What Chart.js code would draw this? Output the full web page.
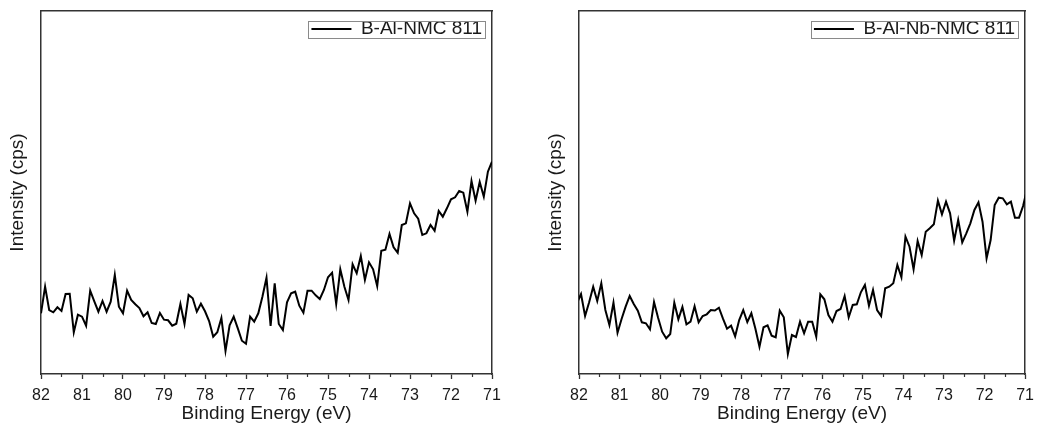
<!DOCTYPE html>
<html lang="en">
<head>
    <meta charset="UTF-8">
    <title>XPS Nb 3d region</title>
    <script src="https://cdn.jsdelivr.net/npm/chart.js@4.4.1/dist/chart.umd.min.js"></script>
    <style>
        body { margin: 0; background: #fff; }
        .panel { position: absolute; top: 0; }
    </style>
</head>
<body>
    <canvas id="chartAl" class="panel" width="520" height="434" style="left:0px"></canvas>
    <canvas id="chartNb" class="panel" width="503" height="434" style="left:538px"></canvas>
<script>
    // binding energy grid (eV), 0.1 eV step, high to low
    const alStart = 82.0
    const nbStart = 82.05
    const eStep = 0.1
    const xTickMin = 71
    const xTickMax = 82

    // intensities (arbitrary cps units)
    const alNmc = [
        607, 873, 640, 617, 667, 630, 800, 803, 417, 593,
        573, 483, 833, 727, 623, 730, 623, 723, 990, 673,
        607, 833, 740, 697, 660, 577, 617, 510, 500, 610,
        543, 537, 483, 503, 700, 500, 790, 757, 623, 703,
        627, 530, 373, 417, 560, 230, 487, 573, 457, 333,
        303, 573, 523, 607, 773, 963, 480, 907, 500, 440,
        717, 807, 823, 683, 613, 833, 833, 787, 750, 840,
        967, 1013, 700, 1047, 873, 740, 1097, 1007, 1180, 940,
        1117, 1047, 880, 1233, 1243, 1400, 1267, 1213, 1490, 1507,
        1707, 1607, 1553, 1390, 1407, 1490, 1433, 1630, 1573, 1657,
        1747, 1767, 1830, 1813, 1623, 1930, 1733, 1920, 1773, 2023,
        2123
    ]
    const alNbNmc = [
        710, 800, 580, 717, 873, 730, 907, 640, 490, 713,
        413, 550, 673, 780, 700, 633, 517, 507, 447, 720,
        563, 423, 357, 400, 713, 547, 670, 497, 523, 677,
        517, 580, 597, 640, 635, 663, 553, 453, 483, 377,
        540, 640, 520, 607, 453, 273, 467, 487, 383, 367,
        633, 567, 200, 390, 370, 523, 407, 523, 523, 373,
        797, 747, 590, 523, 630, 650, 780, 567, 690, 697,
        817, 890, 683, 840, 640, 580, 857, 873, 907, 1090,
        967, 1373, 1273, 1047, 1330, 1190, 1423, 1457, 1497, 1733,
        1597, 1723, 1607, 1333, 1540, 1317, 1407, 1507, 1640, 1717,
        1523, 1157, 1340, 1690, 1763, 1757, 1697, 1723, 1563, 1563,
        1680, 1850
    ]
    const yMax = 3630

    const FONT = "'Liberation Sans', Arial, sans-serif"
    const ink = '#1a1a1a'
    const axisColor = '#333333'

    function toPoints(start, vals) {
        return vals.map((v, i) => ({ x: +(start - i * eStep).toFixed(2), y: v }))
    }

    // half-step ticks between the labelled ones
    const minorTicks = {
        id: 'minorTicks',
        afterDraw(chart) {
            const sx = chart.scales.x, ctx = chart.ctx
            const t = sx.ticks.map(k => k.value)
            ctx.save()
            ctx.strokeStyle = axisColor
            ctx.lineWidth = 1.2
            for (let i = 0; i < t.length - 1; i++) {
                const px = Math.round(sx.getPixelForValue((t[i] + t[i + 1]) / 2)) + 0.5
                ctx.beginPath()
                ctx.moveTo(px, sx.top)
                ctx.lineTo(px, sx.top + 3)
                ctx.stroke()
            }
            ctx.restore()
        }
    }

    // move the legend into the top right corner of the plot, with a frame
    const legendInside = {
        id: 'legendInside',
        afterLayout(chart) {
            const lg = chart.legend, a = chart.chartArea
            const hb = lg.legendHitBoxes[0]
            if (!hb) return
            const pad = lg.options.labels.padding
            lg.width = hb.width + pad * 2
            lg.height = hb.height + pad * 2
            lg.left = a.right - 10 - hb.width - pad
            lg.top = a.top + 18 - hb.height / 2 - pad
            lg.right = lg.left + lg.width
            lg.bottom = lg.top + lg.height
        },
        afterDraw(chart) {
            const hb = chart.legend.legendHitBoxes[0], ctx = chart.ctx
            if (!hb) return
            const cy = hb.top + hb.height / 2
            ctx.save()
            ctx.strokeStyle = '#8a8a8a'
            ctx.lineWidth = 1
            ctx.strokeRect(Math.round(hb.left - 3) + 0.5, Math.round(cy - 8.5) + 0.5, Math.round(hb.width + 6), 17)
            ctx.restore()
        }
    }

    function makeChart(id, label, start, vals, padRight) {
        return new Chart(id, {
            type: 'line',
            data: {
                datasets: [{
                    label: label,
                    data: toPoints(start, vals),
                    borderColor: '#000',
                    borderWidth: 2,
                    pointRadius: 0,
                    tension: 0,
                    xAxisID: 'x',
                    yAxisID: 'y'
                }]
            },
            options: {
                responsive: false,
                animation: false,
                devicePixelRatio: 1,
                layout: { padding: { left: 0, top: 11, right: padRight, bottom: 0 } },
                plugins: {
                    tooltip: { enabled: false },
                    legend: {
                        position: 'chartArea',
                        align: 'start',
                        labels: {
                            usePointStyle: true,
                            pointStyle: 'line',
                            pointStyleWidth: 40,
                            padding: 5,
                            color: ink,
                            font: { family: FONT, size: 19 }
                        }
                    }
                },
                scales: {
                    x: {
                        type: 'linear',
                        position: 'bottom',
                        reverse: true,
                        min: xTickMin,
                        max: xTickMax,
                        afterFit: s => { s.height = 60 },
                        ticks: {
                            stepSize: 1,
                            autoSkip: false,
                            maxRotation: 0,
                            padding: 7,
                            color: ink,
                            font: { family: FONT, size: 16 }
                        },
                        grid: { display: true, drawOnChartArea: false, drawTicks: true, tickLength: 5, tickColor: axisColor, tickWidth: 1.3 },
                        border: { display: true, color: axisColor, width: 1.5 },
                        title: {
                            display: true,
                            text: 'Binding Energy (eV)',
                            color: ink,
                            font: { family: FONT, size: 19 },
                            padding: { top: 0, bottom: 9 }
                        }
                    },
                    y: {
                        type: 'linear',
                        position: 'left',
                        min: 0,
                        max: yMax,
                        afterFit: s => { s.width = 41 },
                        ticks: { display: false },
                        grid: { display: false },
                        border: { display: true, color: axisColor, width: 1.5 },
                        title: {
                            display: true,
                            text: 'Intensity (cps)',
                            color: ink,
                            font: { family: FONT, size: 19 },
                            padding: { top: 6.6, bottom: 0 }
                        }
                    },
                    x2: {
                        type: 'linear',
                        position: 'top',
                        afterFit: s => { s.height = 0 },
                        ticks: { display: false },
                        grid: { display: false },
                        border: { display: true, color: axisColor, width: 1.5 }
                    },
                    y2: {
                        type: 'linear',
                        position: 'right',
                        afterFit: s => { s.width = 0 },
                        ticks: { display: false },
                        grid: { display: false },
                        border: { display: true, color: axisColor, width: 1.5 }
                    }
                }
            },
            plugins: [minorTicks, legendInside]
        })
    }

    makeChart('chartAl', 'B-Al-NMC 811', alStart, alNmc, 28)
    makeChart('chartNb', 'B-Al-Nb-NMC 811', nbStart, alNbNmc, 10)
</script>
</body>
</html>
